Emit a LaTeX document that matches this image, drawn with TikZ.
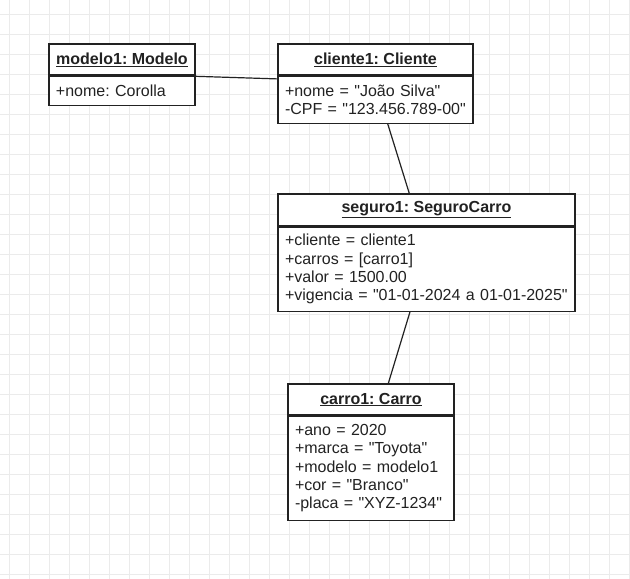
\documentclass[tikz,border=0pt]{standalone}
\usepackage{fontspec}
\setmainfont{Liberation Sans}
\usepackage{tikz}
\usetikzlibrary{backgrounds}
\definecolor{grid_gray}{HTML}{EBEBEB}
\definecolor{uml_ink}{HTML}{222222}
\frenchspacing
\newcommand{\qd}{\textquotedbl}

\tikzset{
    gridline/.style={grid_gray, line width=1pt},
    objtitle/.style={draw=uml_ink, fill=white, line width=1.2pt, text=uml_ink,
        font=\fontsize{16}{18.4}\selectfont\bfseries, inner sep=0pt, minimum height=31},
    objattrs/.style={draw=uml_ink, fill=white, line width=1.2pt, text=uml_ink,
        font=\fontsize{16}{18.4}\selectfont, inner xsep=7pt, inner ysep=0pt, align=left, anchor=north},
    objshadow/.style={fill=black, opacity=0.09},
    assoc/.style={uml_ink, line width=1.2pt}
}

\begin{document}
\begin{tikzpicture}[x=1pt, y=-1pt]
        \useasboundingbox (0,0) rectangle (630,579);
        \fill[white] (0,0) rectangle (630,579);

        \foreach \gx in {9,29,...,629}
            \draw[gridline] (\gx,0) -- (\gx,579);
        \foreach \gy in {14.5,34.5,...,579}
            \draw[gridline] (0,\gy) -- (630,\gy);

        \node[objtitle, minimum width=146] (modelo1) at (122,59.5) {\underline{modelo1: Modelo}};
        \node[objattrs, text width=132, minimum height=29] (modelo1attr) at (modelo1.south) {+nome: Corolla};

        \node[objtitle, minimum width=195] (cliente1) at (375.5,59.5) {\underline{cliente1: Cliente}};
        \node[objattrs, text width=181, minimum height=47] (cliente1attr) at (cliente1.south)
            {+nome = \qd João Silva\qd\\-CPF = \qd 123.456.789-00\qd};

        \node[objtitle, minimum width=297, minimum height=32] (seguro1) at (426.5,210) {\underline{seguro1: SeguroCarro}};
        \node[objattrs, text width=283, minimum height=84] (seguro1attr) at (seguro1.south)
            {+cliente = cliente1\\+carros = [carro1]\\+valor = 1500.00\\+vigencia = \qd 01-01-2024 a 01-01-2025\qd};

        \node[objtitle, minimum width=166] (carro1) at (371,399.5) {\underline{carro1: Carro}};
        \node[objattrs, text width=152, minimum height=104] (carro1attr) at (carro1.south)
            {+ano = 2020\\+marca = \qd Toyota\qd\\+modelo = modelo1\\+cor = \qd Branco\qd\\-placa = \qd XYZ-1234\qd};

        \begin{scope}[on background layer]
            \foreach \obj in {modelo1, cliente1, seguro1, carro1}
                \fill[objshadow] ([shift={(6,6)}]\obj.north west) rectangle ([shift={(6,6)}]\obj attr.south east);
        \end{scope}

        \draw[assoc] ([yshift=-0.7pt]modelo1attr.north east) -- ([yshift=-3.3pt]cliente1attr.north west);
        \draw[assoc] ([xshift=12.2pt]cliente1attr.south) -- ([xshift=-17.2pt]seguro1.north);
        \draw[assoc] ([xshift=-16.5pt]seguro1attr.south) -- ([xshift=17.3pt]carro1.north);

\end{tikzpicture}
\end{document}
